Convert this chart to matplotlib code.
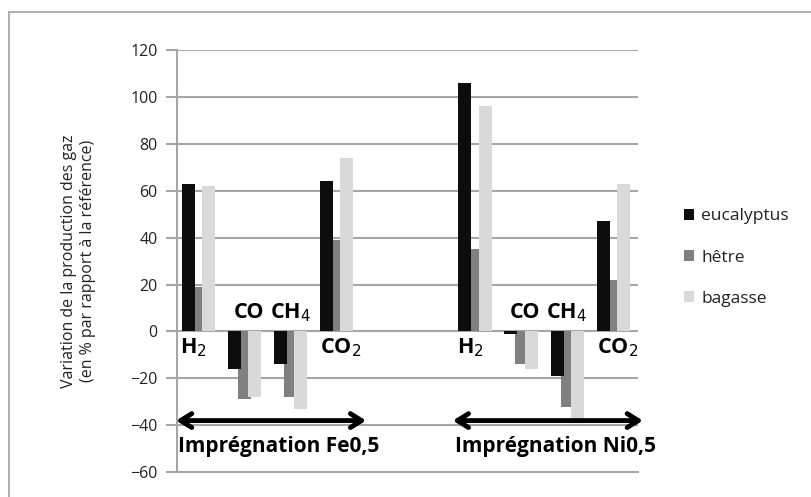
import matplotlib
matplotlib.use("Agg")
from matplotlib import pyplot as plt
from matplotlib.patches import Rectangle
import numpy as np

plt.rcParams['font.family'] = ['Open Sans', 'DejaVu Sans']

# data
gaz = ["H$_2$", "CO", "CH$_4$", "CO$_2$"]
pos_fe = np.array([0, 1, 2, 3])
pos_ni = np.array([6, 7, 8, 9])
eucalyptus_fe = [63, -16, -14, 64]
hetre_fe = [19, -29, -28, 39]
bagasse_fe = [62, -28, -33, 74]
eucalyptus_ni = [106, -1, -19, 47]
hetre_ni = [35, -14, -32, 22]
bagasse_ni = [96, -16, -37, 63]
series = ["eucalyptus", "hêtre", "bagasse"]
couleurs = ["#0d0d0d", "#808080", "#d9d9d9"]

fig = plt.figure(figsize=(8.12, 4.97), dpi=100)
ax = fig.add_axes([0.218, 0.050, 0.568, 0.849])

x = np.concatenate([pos_fe, pos_ni])
vals = [eucalyptus_fe + eucalyptus_ni, hetre_fe + hetre_ni, bagasse_fe + bagasse_ni]
decal = [-0.26, -0.04, 0.18]
ordre = [3, 1, 2]
for v, c, d, nom, z in zip(vals, couleurs, decal, series, ordre):
    ax.bar(x + d, v, width=0.28, color=c, label=nom, zorder=z)

ax.set_xlim(-0.5, 9.5)
ax.set_ylim(-60, 120)
ax.set_yticks(np.arange(-60, 121, 20))
ax.set_xticks([])
ax.grid(axis="y", color="#a6a6a6", linewidth=1.5, zorder=0)
ax.set_axisbelow(True)
for s in ["top", "right"]:
    ax.spines[s].set_visible(False)
ax.spines["left"].set_color("#a6a6a6")
ax.spines["left"].set_linewidth(1.5)
ax.spines["bottom"].set_color("#a6a6a6")
ax.spines["bottom"].set_linewidth(1.5)
ax.tick_params(axis="y", colors="#a6a6a6", labelcolor="#222222", labelsize=11.5,
               length=8, width=1.5, pad=6)
ax.set_ylabel("Variation de la production des gaz\n(en % par rapport à la référence)",
              fontsize=11.5, color="#222222", linespacing=1.3)
ax.yaxis.set_label_coords(-0.175, 0.5)

# gas labels
for base in [pos_fe, pos_ni]:
    ax.text(base[0] - 0.44, -7, gaz[0], fontsize=15.5, fontweight="bold", va="center", ha="left")
    ax.text(base[1] + 0.05, 8, gaz[1], fontsize=15.5, fontweight="bold", va="center", ha="center")
    ax.text(base[2] - 0.05, 8, gaz[2], fontsize=15.5, fontweight="bold", va="center", ha="center")
    ax.text(base[3] - 0.4, -7, gaz[3], fontsize=15.5, fontweight="bold", va="center", ha="left")

# arrows and group labels
groupes = ["Imprégnation Fe0,5", "Imprégnation Ni0,5"]
for base, nom in zip([pos_fe, pos_ni], groupes):
    ax.annotate("", xy=(base[0] - 0.52, -38), xytext=(base[3] + 0.6, -38),
                arrowprops=dict(arrowstyle="<->,head_length=0.8,head_width=0.5",
                                color="black", lw=3.5, shrinkA=0, shrinkB=0),
                annotation_clip=False)
    ax.text(base[0] - 0.48, -49, nom, fontsize=15, fontweight="bold",
            va="center", ha="left", clip_on=False)

fig.legend(loc="upper left", bbox_to_anchor=(0.823, 0.612), frameon=False,
           fontsize=12.5, handlelength=0.6, handleheight=0.6, handletextpad=0.4,
           labelspacing=1.45, labelcolor="#222222")

fig.patches.append(Rectangle((0.011, -0.02), 1.02, 0.996, transform=fig.transFigure,
                             fill=False, edgecolor="#b0b0b0", linewidth=1.5))

fig.savefig("out.png", dpi=100)
